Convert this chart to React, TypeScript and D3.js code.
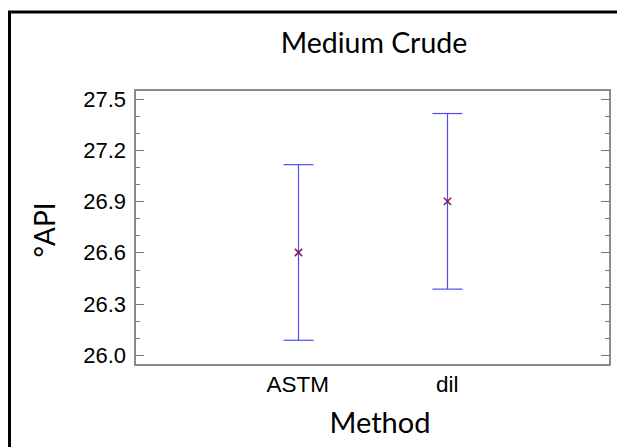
import { useEffect, useRef } from 'react';
import * as d3 from 'd3';

const methods = ['ASTM', 'dil'];
const means = [26.6, 26.9];
const lower = [26.085, 26.385];
const upper = [27.115, 27.415];
const yTicks = [26.0, 26.3, 26.6, 26.9, 27.2, 27.5];
const minorTicks = d3.range(26.0, 27.55, 0.1);

const App = () => {
    const svgRef = useRef<SVGSVGElement>(null);
    const width = 617;
    const height = 447;
    const plot = { left: 135, top: 90, right: 610, bottom: 365 };

    useEffect(() => {
        const svg = d3.select(svgRef.current);
        svg.selectAll('*').remove();

        // outer frame (top + left only)
        svg.append('path')
            .attr('d', `M9.5,${height} L9.5,12 L${width},12`)
            .attr('fill', 'none')
            .attr('stroke', '#000')
            .attr('stroke-width', 3);

        const xScale = d3.scalePoint()
            .domain(methods)
            .range([plot.left, plot.right])
            .padding(1.09);

        const yScale = d3.scaleLinear()
            .domain([25.94, 27.553])
            .range([plot.bottom, plot.top]);

        svg.append('rect')
            .attr('x', plot.left)
            .attr('y', plot.top)
            .attr('width', plot.right - plot.left)
            .attr('height', plot.bottom - plot.top)
            .attr('fill', 'none')
            .attr('stroke', '#666')
            .attr('stroke-width', 1.5);

        const ticks = svg.append('g').attr('stroke', '#777').attr('stroke-width', 1);
        minorTicks.forEach(t => {
            const major = yTicks.some(m => Math.abs(m - t) < 1e-6);
            const len = major ? 9 : 5;
            const y = Math.round(yScale(t)) + 0.5;
            ticks.append('line').attr('x1', plot.left).attr('x2', plot.left + len).attr('y1', y).attr('y2', y);
            ticks.append('line').attr('x1', plot.right).attr('x2', plot.right - len).attr('y1', y).attr('y2', y);
        });

        svg.append('g')
            .selectAll('text')
            .data(yTicks)
            .join('text')
            .attr('x', plot.left - 9)
            .attr('y', d => yScale(d))
            .attr('dy', '0.36em')
            .attr('text-anchor', 'end')
            .style('font-family', '"Liberation Sans", Arial, sans-serif')
            .style('font-size', '22px')
            .text(d => d.toFixed(1));

        svg.append('g')
            .selectAll('text')
            .data(methods)
            .join('text')
            .attr('x', d => xScale(d)!)
            .attr('y', 392)
            .attr('text-anchor', 'middle')
            .style('font-family', '"Liberation Sans", Arial, sans-serif')
            .style('font-size', '22.5px')
            .text(d => d);

        const bars = svg.append('g')
            .attr('stroke', '#4d4dff')
            .attr('stroke-width', 1.2);
        methods.forEach((m, i) => {
            const x = Math.round(xScale(m)!) + 0.5;
            bars.append('line').attr('x1', x).attr('x2', x).attr('y1', yScale(upper[i])).attr('y2', yScale(lower[i]));
            bars.append('line').attr('x1', x - 15).attr('x2', x + 15).attr('y1', yScale(upper[i])).attr('y2', yScale(upper[i]));
            bars.append('line').attr('x1', x - 15).attr('x2', x + 15).attr('y1', yScale(lower[i])).attr('y2', yScale(lower[i]));
        });

        const marker = d3.symbol(d3.symbolX, 36);
        svg.append('g')
            .selectAll('path')
            .data(means)
            .join('path')
            .attr('transform', (d, i) => `translate(${Math.round(xScale(methods[i])!) + 0.5},${yScale(d)})`)
            .attr('d', marker)
            .attr('fill', 'none')
            .attr('stroke', '#8a1a50')
            .attr('stroke-width', 1.5);

        svg.append('text')
            .attr('x', 374)
            .attr('y', 53)
            .attr('text-anchor', 'middle')
            .style('font-family', 'Lato, sans-serif')
            .style('font-size', '28.5px')
            .text('Medium Crude');

        svg.append('text')
            .attr('transform', 'rotate(-90)')
            .attr('x', -230)
            .attr('y', 55)
            .attr('text-anchor', 'middle')
            .style('font-family', 'Lato, sans-serif')
            .style('font-size', '28px')
            .text('°API');

        svg.append('text')
            .attr('x', 380)
            .attr('y', 433)
            .attr('text-anchor', 'middle')
            .style('font-family', 'Lato, sans-serif')
            .style('font-size', '29px')
            .text('Method');
    }, []);

    return (
        <svg ref={svgRef} width={width} height={height}
            style={{ position: 'absolute', left: 0, top: 0, background: '#fff' }}></svg>
    );
};

export default App;
